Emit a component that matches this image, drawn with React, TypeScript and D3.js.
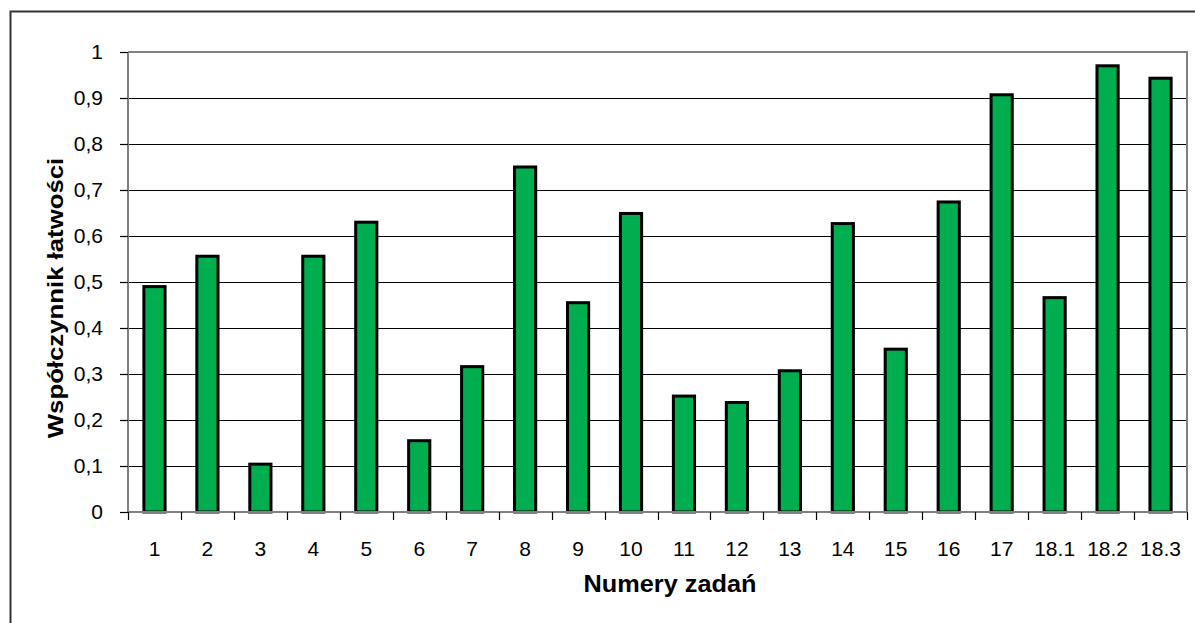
import React from "react";
import * as d3 from "d3";

const categories = ["1", "2", "3", "4", "5", "6", "7", "8", "9", "10", "11", "12", "13", "14", "15", "16", "17", "18.1", "18.2", "18.3"];
const values = [0.49, 0.556, 0.104, 0.556, 0.63, 0.155, 0.316, 0.75, 0.455, 0.649, 0.252, 0.238, 0.307, 0.627, 0.354, 0.674, 0.907, 0.466, 0.97, 0.943];
const yTicks = [0, 0.1, 0.2, 0.3, 0.4, 0.5, 0.6, 0.7, 0.8, 0.9, 1];

const yTitle = "Współczynnik łatwości";
const xTitle = "Numery zadań";

const width = 1195;
const height = 623;
const plot = { left: 128, right: 1187, top: 52, bottom: 512 };

const fmt = (v: number) => (v === 0 || v === 1 ? String(v) : v.toFixed(1).replace(".", ","));

export default function App() {
  const x = d3.scaleBand<string>().domain(categories).range([plot.left, plot.right]).paddingInner(0.6).paddingOuter(0.3);
  const bands = d3.scaleBand<string>().domain(categories).range([plot.left, plot.right]);
  const y = d3.scaleLinear().domain([0, 1]).range([plot.bottom, plot.top]);
  const font = "'Liberation Sans', Arial, sans-serif";

  const boundaries = categories.map((c) => bands(c) as number).concat([plot.right]);

  return (
    <svg
      width={width}
      height={height}
      style={{ position: "absolute", left: 0, top: 0, background: "#fff" }}
      fontFamily={font}
    >
      {/* outer frame */}
      <rect x={10.5} y={11.5} width={width + 10} height={height + 10} fill="none" stroke="#333" strokeWidth={2} />

      {/* gridlines */}
      {yTicks.filter((t) => t > 0 && t < 1).map((t) => (
        <line key={t} x1={plot.left} x2={plot.right} y1={Math.round(y(t)) + 0.5} y2={Math.round(y(t)) + 0.5} stroke="#000" strokeWidth={1.2} />
      ))}

      {/* plot border */}
      <line x1={plot.left} x2={plot.right + 1} y1={plot.top} y2={plot.top} stroke="#808080" strokeWidth={2} />
      <line x1={plot.right} x2={plot.right} y1={plot.top} y2={plot.bottom} stroke="#808080" strokeWidth={2} />

      {/* bars */}
      {values.map((v, i) => (
        <rect
          key={categories[i]}
          x={x(categories[i])}
          y={y(v)}
          width={x.bandwidth()}
          height={plot.bottom - y(v)}
          fill="#00ad4f"
          stroke="#000"
          strokeWidth={3}
        />
      ))}

      {/* axes */}
      <line x1={plot.left} x2={plot.left} y1={plot.top} y2={plot.bottom} stroke="#808080" strokeWidth={2} />
      <line x1={plot.left} x2={plot.right} y1={plot.bottom} y2={plot.bottom} stroke="#808080" strokeWidth={2} />

      {yTicks.map((t) => (
        <g key={"yt" + t}>
          <line x1={120} x2={plot.left} y1={Math.round(y(t)) + 0.5} y2={Math.round(y(t)) + 0.5} stroke="#000" strokeWidth={1.2} />
          <text x={103} y={y(t)} dy="0.35em" textAnchor="end" fontSize={21} fill="#000">
            {fmt(t)}
          </text>
        </g>
      ))}

      {boundaries.map((b, i) => (
        <line key={"xt" + i} x1={Math.round(b) + 0.5} x2={Math.round(b) + 0.5} y1={plot.bottom} y2={plot.bottom + 8} stroke="#000" strokeWidth={1.2} />
      ))}

      {categories.map((c) => (
        <text key={"xl" + c} x={(bands(c) as number) + bands.bandwidth() / 2} y={549} dy="0.35em" textAnchor="middle" fontSize={21} fill="#000">
          {c}
        </text>
      ))}

      <text transform="translate(670, 592) scale(1.1, 1)" textAnchor="middle" fontSize={23} fontWeight="bold" fill="#000">
        {xTitle}
      </text>
      <text
        transform="translate(63, 298) rotate(-90) scale(1.12, 1)"
        textAnchor="middle"
        fontSize={23}
        fontWeight="bold"
        fill="#000"
      >
        {yTitle}
      </text>
    </svg>
  );
}
